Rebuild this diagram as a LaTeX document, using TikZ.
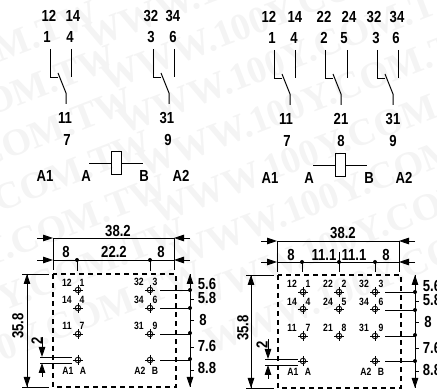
\documentclass[tikz,border=0pt]{standalone}
\usepackage{fontspec}
\setmainfont[FakeStretch=0.82]{Liberation Sans}
\newfontfamily\wmfont{Liberation Serif}
\usetikzlibrary{arrows.meta}
\definecolor{wmgray}{gray}{0.955}
\tikzset{
  sym/.style={line width=1pt},
  thin line/.style={line width=0.8pt},
  dimtip/.style={line width=0.8pt,-{Triangle[length=10pt,width=6.5pt]}},
  dashbox/.style={line width=1.7pt,dash pattern=on 5pt off 4pt},
  big/.style={font=\bfseries\fontsize{16}{16}\selectfont,inner sep=0pt},
  dimtxt/.style={font=\bfseries\fontsize{16}{16}\selectfont,inner sep=0pt},
  pintxt/.style={font=\bfseries\fontsize{10.5}{10.5}\selectfont,inner sep=0pt},
  wm/.style={font=\wmfont\bfseries\fontsize{38}{38}\selectfont,text=wmgray,rotate=21,anchor=base west,inner sep=0pt},
}
\newcommand{\contact}[4]{%
  \draw[sym] (#1,#4) -- (#1,#4+29) -- (#1+8,#4+29);
  \draw[sym] (#1+8,#4+24) -- (#1+16,#4+44) -- (#1+16,#4+55);
  \draw[sym] (#2,#4) -- (#2,#4+28);
}
\newcommand{\coil}[2]{%
  \draw[sym] (#1-22,#2+12) -- (#1,#2+12);
  \draw[sym] (#1+10,#2+12) -- (#1+32,#2+12);
  \draw[sym] (#1,#2) rectangle (#1+10,#2+23);
}
\newcommand{\pin}[2]{%
  \draw[line width=0.8pt] (#1,#2) circle (2.8);
  \draw[line width=0.8pt] (#1-5,#2) -- (#1+5,#2) (#1,#2-5) -- (#1,#2+5);
}
\newcommand{\dimin}[3]{%
  \coordinate (dl) at (#1,#3); \coordinate (dr) at (#2,#3);
  \draw[dimtip] (#1-16,#3) -- (dl);
  \draw[dimtip] (#2+16,#3) -- (dr);
  \draw[thin line] (dl) -- (dr);
}
\newcommand{\rdot}[2]{\fill (#1,#2) circle (2);}
\begin{document}
\begin{tikzpicture}[x=1pt,y=-1pt]
\useasboundingbox (0,0) rectangle (437,390);
% watermark
\begin{scope}
\clip (0,0) rectangle (437,390);
\foreach \x/\y in {90/50,107/92,123/135,143/178,157/225,177/268,195/310,210/355,-250/158,-232/202,-215/245,-197/288,-180/332,-162/375,-145/418}
  \node[wm] (wm\x-\y) at (\x,\y) {WWW.100Y.COM.TW};
\end{scope}
% ---- left schematic
\foreach \x/\y/\t in {49/16/12,73/16/14,151/16/32,173/16/34,47/37/1,70/37/4,151/37/3,173/37/6,65/118/11,167/118/31,67/140/7,168/140/9,45/176/A1,86/176/A,144/176/B,181/176/A2}
  \node[big] (s\x-\y) at (\x,\y) {\t};
\contact{50}{71}{49}{49}
\contact{153}{174}{49}{49}
\coil{111}{152}
% ---- right schematic
\foreach \x/\y/\t in {269/17/12,295/17/14,324/17/22,349/17/24,374/17/32,397/17/34,272/38/1,294/38/4,324/38/2,344/38/5,376/38/3,396/38/6,286/119/11,341/119/21,393/119/31,287/141/7,341/141/8,393/141/9,270/178/A1,309/178/A,369/178/B,404/178/A2}
  \node[big] (s\x-\y) at (\x,\y) {\t};
\contact{274}{295}{50}{50}
\contact{325}{347}{50}{50}
\contact{377}{398}{50}{50}
\coil{335}{154}
% ---- left footprint
\foreach \x/\y/\t in {118/231/38.2,66/252/8,114/252/22.2,161/252/8,207/284/5.6,207/298/5.8,203/320/8,207/346/7.6,207/368/8.8}
  \node[dimtxt] (d\x-\y) at (\x,\y) {\t};
\node[dimtxt,rotate=90] (dv1) at (18,326) {35.8};
\node[dimtxt,rotate=90] (dv2) at (37,341) {2};
\dimin{53}{174}{238}
\dimin{53}{174}{260}
\draw[thin line] (53,238) -- (53,270) (174,238) -- (174,270);
\draw[thin line] (77,260) -- (77,271) (150,260) -- (150,271);
\rdot{77}{260}\rdot{150}{260}
\draw[dashbox] (53,274) rectangle (176,387);
\draw[thin line] (22,274) -- (49,274) (22,387) -- (49,387);
\draw[dimtip] (27,300) -- (27,274);
\draw[dimtip] (27,360) -- (27,387);
\draw[thin line] (27,274) -- (27,387);
\draw[dimtip] (190,285) -- (190,274);
\draw[dimtip] (190,375) -- (190,387);
\draw[thin line] (190,274) -- (190,387);
\foreach \y in {290,308,333,359} {\rdot{190}{\y}}
\foreach \y in {299,320,347,370} {\draw[thin line] (190,\y) -- (194,\y);}
\foreach \y in {290,308,334,360} {\pin{78}{\y}\pin{150}{\y}\draw[thin line] (160,\y) -- (190,\y);}
\draw[thin line] (40,357) -- (72,357) (40,363) -- (72,363);
\draw[dimtip] (42,337) -- (42,357);
\draw[dimtip] (42,377) -- (42,363);
\foreach \x/\y/\t in {67/283/12,82/283/1,67/300/14,82/300/4,67/326/11,82/326/7,68/371/A1,83/371/A,139/282/32,155/282/3,139/300/34,155/300/6,139/326/31,155/326/9,140/371/A2,155/371/B}
  \node[pintxt] (p\x-\y) at (\x,\y) {\t};
% ---- right footprint
\foreach \x/\y/\t in {343/233/38.2,291/255/8,324/255/11.1,354/255/11.1,386/255/8,432/286/5.6,432/300/5.8,428/322/8,432/348/7.6,432/370/8.8}
  \node[dimtxt] (d\x-\y) at (\x,\y) {\t};
\node[dimtxt,rotate=90] (dv3) at (243,328) {35.8};
\node[dimtxt,rotate=90] (dv4) at (262,345) {2};
\dimin{277}{399}{241}
\dimin{277}{399}{262}
\draw[thin line] (277,241) -- (277,272) (399,241) -- (399,272);
\draw[thin line] (302,262) -- (302,272) (339,252) -- (339,272) (375,262) -- (375,272);
\rdot{302}{262}\rdot{339}{262}\rdot{375}{262}
\draw[dashbox] (278,275) rectangle (401,388);
\draw[thin line] (246,275) -- (274,275) (246,388) -- (274,388);
\draw[dimtip] (251,300) -- (251,275);
\draw[dimtip] (251,362) -- (251,388);
\draw[thin line] (251,275) -- (251,388);
\draw[dimtip] (415,286) -- (415,275);
\draw[dimtip] (415,376) -- (415,388);
\draw[thin line] (415,275) -- (415,388);
\foreach \y in {292,310,335,361} {\rdot{415}{\y}}
\foreach \y in {301,322,348,371} {\draw[thin line] (415,\y) -- (419,\y);}
\foreach \y in {292,309,336} {\pin{303}{\y}\pin{339}{\y}\pin{375}{\y}}
\pin{303}{361}\pin{375}{361}
\foreach \y in {292,310,336,361} {\draw[thin line] (385,\y) -- (415,\y);}
\draw[thin line] (265,359) -- (298,359) (265,365) -- (298,365);
\draw[dimtip] (268,339) -- (268,359);
\draw[dimtip] (268,379) -- (268,365);
\foreach \x/\y/\t in {292/284/12,308/284/1,328/284/22,344/284/2,364/284/32,381/284/3,292/302/14,308/302/4,328/302/24,344/302/5,364/302/34,381/302/6,292/328/11,308/328/7,328/328/21,344/328/8,364/328/31,381/328/9,293/372/A1,308/372/A,366/372/A2,381/372/B}
  \node[pintxt] (p\x-\y) at (\x,\y) {\t};
\end{tikzpicture}
\end{document}
